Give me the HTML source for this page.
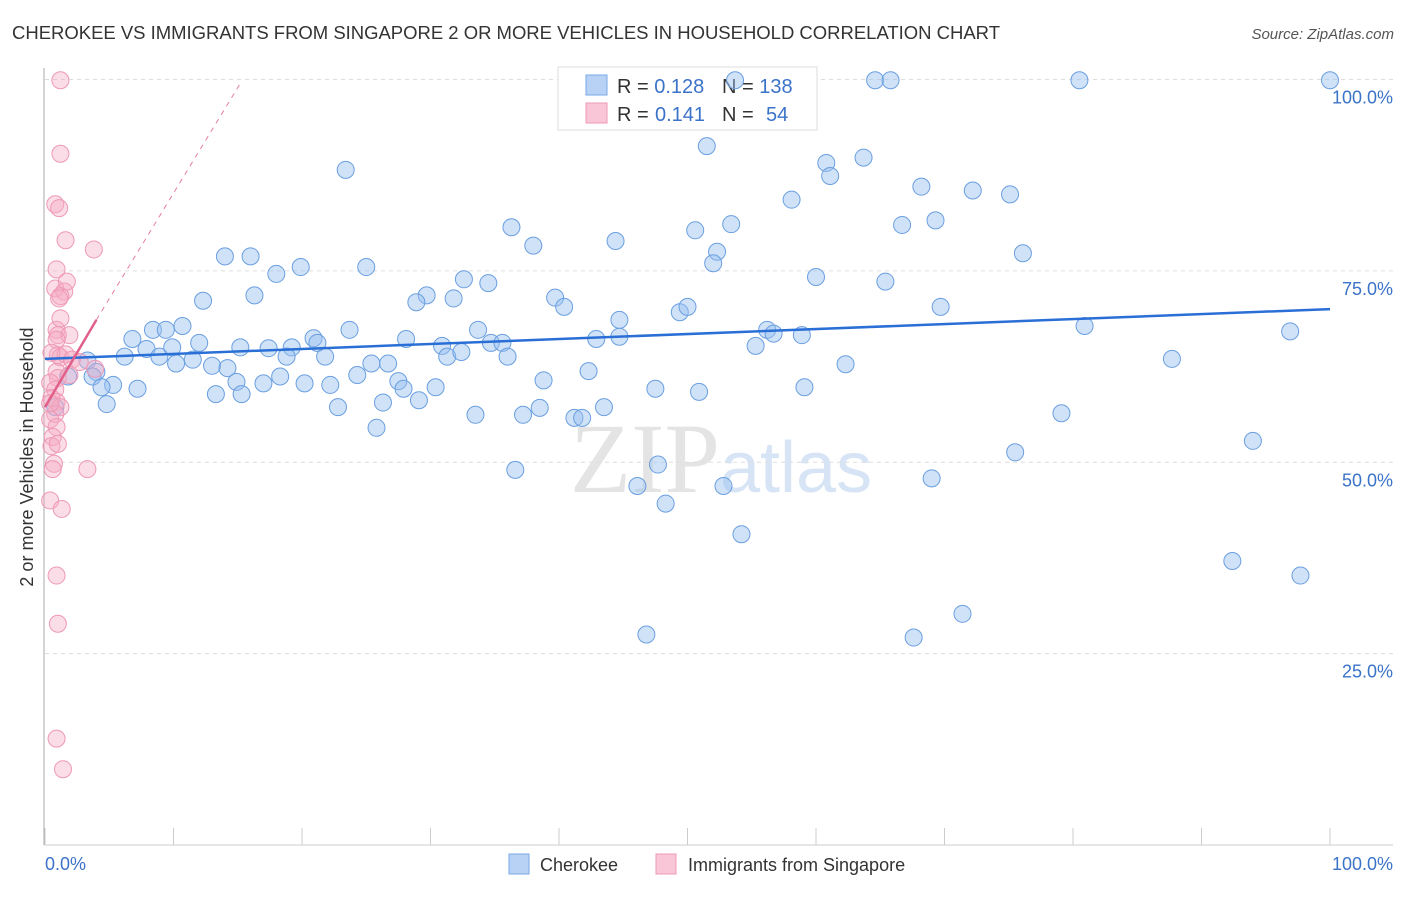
<!DOCTYPE html>
<html><head><meta charset="utf-8"><style>
body{margin:0;background:#fff;font-family:"Liberation Sans",sans-serif}
</style></head><body>
<svg width="1406" height="892" xmlns="http://www.w3.org/2000/svg" font-family="Liberation Sans, sans-serif">
<text x="12" y="39" font-size="18.5" fill="#333" textLength="988">CHEROKEE VS IMMIGRANTS FROM SINGAPORE 2 OR MORE VEHICLES IN HOUSEHOLD CORRELATION CHART</text>
<text x="1394" y="39" font-size="15" fill="#555" font-style="italic" text-anchor="end">Source: ZipAtlas.com</text>
<text x="720" y="492" font-size="100" fill="#e4e4e4" text-anchor="end" font-family="Liberation Serif, serif">ZIP</text>
<text x="720" y="492" font-size="72" fill="#d6e4f5">atlas</text>
<g id="grid"></g>
<line x1="44" y1="68" x2="44" y2="845" stroke="#aaa"/>
<line x1="44" y1="845" x2="1393" y2="845" stroke="#ccc"/>
<text transform="translate(33,457) rotate(-90)" font-size="18" fill="#333" text-anchor="middle">2 or more Vehicles in Household</text>
<text x="45" y="870" font-size="18" fill="#3b73c9">0.0%</text>
<text x="1393" y="870" font-size="18" fill="#3b73c9" text-anchor="end">100.0%</text>
<g id="pts"></g>
<g id="trend"></g>
<g>
<rect x="558" y="67" width="259" height="63" fill="#fff" stroke="#ddd"/>
<rect x="586" y="75" width="21" height="20" fill="#b8d2f5" stroke="#7aa8e8"/>
<rect x="586" y="103" width="21" height="20" fill="#f8c6d6" stroke="#ee9ab5"/>
<text x="617" y="93" font-size="20" fill="#333">R = <tspan fill="#3b73c9">0.128</tspan><tspan x="722">N = </tspan><tspan fill="#3b73c9">138</tspan></text>
<text x="617" y="121" font-size="20" fill="#333">R = <tspan fill="#3b73c9" x="655">0.141</tspan><tspan x="722">N = </tspan><tspan fill="#3b73c9" x="766">54</tspan></text>
</g>
<g id="topg"></g>
<g><rect x="509" y="854" width="20" height="20" fill="#b8d2f5" stroke="#7aa8e8"/><text x="540" y="871" font-size="18" fill="#333">Cherokee</text></g>
<g><rect x="656" y="854" width="20" height="20" fill="#f8c6d6" stroke="#ee9ab5"/><text x="688" y="871" font-size="18" fill="#333">Immigrants from Singapore</text></g>
</svg>
<script>
const yTicks=[100,75,50,25];
const yTickLabels=["100.0%","75.0%","50.0%","25.0%"];
const xTicks=[0,10,20,30,40,50,60,70,80,90,100];
const blueX=[53.7,64.6,65.8,80.5,100,51.5,23.4,60.8,63.7,61.1,68.2,72.2,75.1,58.1,36.3,38.0,44.4,50.6,53.4,66.7,69.3,14.0,16.0,25.0,52.3,52.0,76.1,60.0,65.4,18.0,19.9,34.5,32.6,16.3,12.3,39.7,40.4,29.7,28.9,31.8,10.7,8.4,9.4,6.8,12.0,23.7,20.9,21.2,33.7,34.7,35.6,44.7,49.4,50.0,56.2,56.7,58.9,80.9,96.9,69.7,44.7,42.9,28.1,30.9,31.3,32.4,26.7,25.4,36.0,21.8,7.9,6.2,8.9,9.9,11.5,10.2,15.2,17.4,19.2,18.8,3.3,4.0,1.8,3.7,5.3,13.0,14.2,18.3,55.3,62.3,87.7,42.3,24.3,27.5,14.9,20.2,22.2,27.9,30.4,38.8,4.4,7.2,17.0,13.3,15.3,47.5,50.9,59.1,4.8,26.3,29.1,22.8,38.5,37.2,33.5,41.2,41.8,43.5,25.8,79.1,94.0,36.6,47.7,46.1,48.3,52.8,69.0,75.5,54.2,92.4,97.7,71.4,46.8,67.6,0.8];
const blueY=[99.9,99.9,99.9,99.9,99.9,91.3,88.2,89.1,89.8,87.4,86.0,85.5,85.0,84.3,80.7,78.3,78.9,80.3,81.1,81.0,81.6,76.9,76.9,75.5,77.5,76.0,77.3,74.2,73.6,74.6,75.5,73.4,73.9,71.8,71.1,71.5,70.3,71.8,70.9,71.4,67.8,67.3,67.3,66.1,65.6,67.3,66.2,65.6,67.3,65.6,65.6,68.6,69.6,70.3,67.3,66.8,66.6,67.8,67.1,70.3,66.4,66.1,66.1,65.2,63.8,64.4,62.9,62.9,63.8,63.8,64.8,63.8,63.8,65.0,63.4,62.9,65.0,64.9,65.0,63.8,63.3,61.8,61.2,61.2,60.1,62.6,62.3,61.2,65.2,62.8,63.5,61.9,61.4,60.6,60.5,60.3,60.1,59.6,59.8,60.7,59.8,59.6,60.3,58.9,58.9,59.6,59.2,59.8,57.6,57.8,58.1,57.2,57.1,56.2,56.2,55.8,55.8,57.2,54.5,56.4,52.8,49.0,49.7,46.9,44.6,46.9,47.9,51.3,40.6,37.1,35.2,30.2,27.5,27.1,57.2];
const pinkX=[1.2,1.2,0.8,1.1,1.6,3.8,0.9,0.8,1.5,1.2,1.7,1.1,0.9,1.0,1.9,0.9,1.0,1.2,1.6,2.1,2.7,3.9,0.9,1.0,0.4,0.8,0.5,0.9,1.2,0.8,0.4,0.9,0.6,0.5,1.0,0.7,0.6,3.3,0.4,1.3,0.9,1.0,0.9,1.4,0.4,0.5,1.2,1.9];
const pinkY=[99.9,90.3,83.7,83.2,79.0,77.8,75.2,72.7,72.3,71.7,73.6,71.4,67.3,66.6,66.6,66.0,64.0,63.7,64.1,63.4,63.1,62.2,61.8,61.0,60.4,59.5,58.4,57.9,57.2,56.3,55.6,54.6,53.3,52.1,52.4,49.8,49.1,49.1,45.0,43.9,35.2,28.9,13.9,9.9,57.7,64.3,68.8,61.4];
const NS="http://www.w3.org/2000/svg";
const X0=45,X1=1330,Y0=845,Y100=79.5;
function sx(v){return X0+(X1-X0)*v/100}
function sy(v){return Y0-(Y0-Y100)*v/100}
function mk(t,a){const e=document.createElementNS(NS,t);for(const k in a)e.setAttribute(k,a[k]);return e}
const grid=document.getElementById('grid');
yTicks.forEach((t,i)=>{
 const l=mk('line',{x1:45,x2:1393,y1:sy(t),y2:sy(t),stroke:'#ddd','stroke-dasharray':'4,4'});
 
 
 grid.appendChild(l);
 const tx=mk('text',{x:1393,y:sy(t)+24,'font-size':18,fill:'#3b73c9','text-anchor':'end'});
 tx.textContent=yTickLabels[i];
 
 
 grid.appendChild(tx);
});
xTicks.forEach(t=>{
 const l=mk('line',{x1:sx(t),x2:sx(t),y1:828,y2:845,stroke:'#ccc'});
 
 
 grid.appendChild(l);
});
const pts=document.getElementById('pts');
const topG=document.getElementById('topg');
blueX.forEach((x,i)=>{
 const c=mk('circle',{cx:sx(x),cy:sy(blueY[i]),r:8.5,fill:'rgba(150,190,240,0.45)',stroke:'#6a9fe0','stroke-width':1});
 
 
 (sx(x)>558&&sx(x)<817&&sy(blueY[i])<100?topG:pts).appendChild(c);
});
pinkX.forEach((x,i)=>{
 const c=mk('circle',{cx:sx(x),cy:sy(pinkY[i]),r:8.5,fill:'rgba(245,170,195,0.4)',stroke:'#ee99b5','stroke-width':1});
 
 
 pts.appendChild(c);
});
const tr=document.getElementById('trend');
let l=mk('line',{x1:sx(0),y1:sy(63.5),x2:sx(100),y2:sy(70.0),stroke:'#2a6fd6','stroke-width':2.5});


tr.appendChild(l);
l=mk('line',{x1:sx(4),y1:sy(68.6),x2:sx(15.2),y2:sy(99.5),stroke:'#e87ea0','stroke-width':1,'stroke-dasharray':'5,5'});


tr.appendChild(l);
l=mk('line',{x1:sx(0),y1:sy(57.2),x2:sx(4),y2:sy(68.6),stroke:'#e0608a','stroke-width':2.5});


tr.appendChild(l);
</script>
</body></html>
